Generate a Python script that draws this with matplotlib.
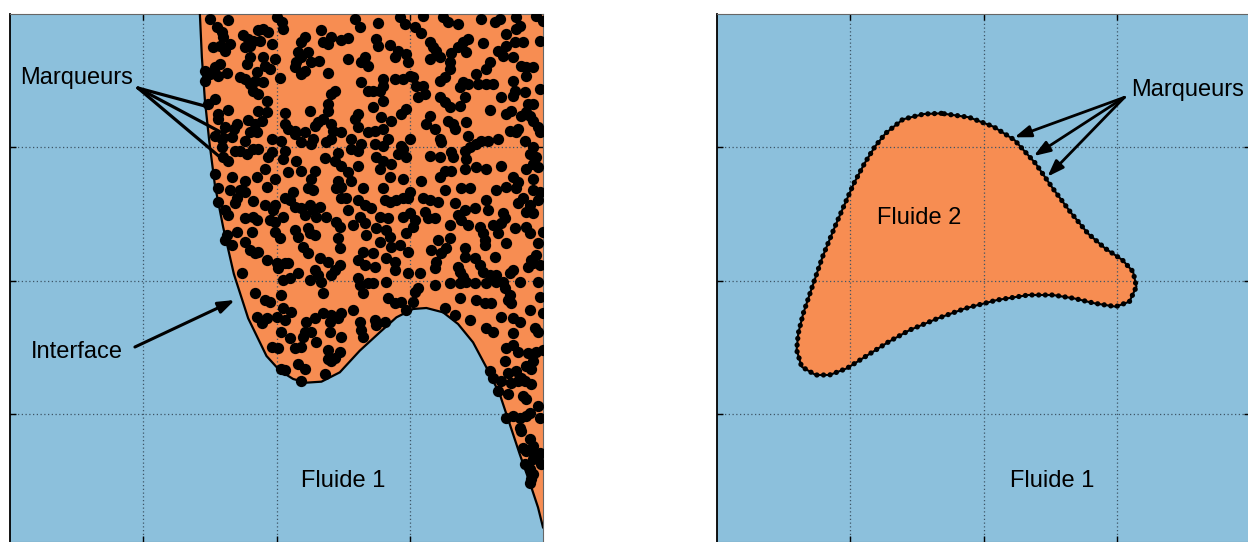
import matplotlib
matplotlib.use('Agg')
import matplotlib.pyplot as plt
import numpy as np

plt.rcParams['font.family'] = ['Liberation Sans', 'DejaVu Sans']

BLEU = '#8cc0dc'
ORANGE = '#f78d52'

# unites : 1 case de grille = 400, axe y vers le bas
interface_x = [570, 576, 585, 598, 615, 640, 672, 715, 770, 810, 850, 890, 935,
               990, 1050, 1110, 1160, 1210, 1250, 1300, 1345, 1390, 1430, 1470,
               1500, 1530, 1560, 1585, 1600]
interface_y = [0, 130, 258, 380, 513, 640, 780, 913, 1026, 1070, 1095, 1106, 1103,
               1075, 1010, 955, 910, 885, 882, 895, 930, 985, 1060, 1140,
               1230, 1320, 1405, 1480, 1540]

# marqueurs (fluide 2, figure de gauche)
markers_nw = [
    (600, 15), (653, 18), (800, 10), (817, 25), (820, 45), (1035, 15), (1050, 40), (933, 48),
    (620, 40), (635, 55), (640, 70), (745, 48), (760, 45), (775, 55), (700, 62), (715, 75),
    (730, 80), (750, 80), (885, 70), (875, 85), (965, 70), (995, 78), (1015, 72), (940, 85),
    (955, 90), (610, 100), (630, 95), (645, 112), (660, 90), (705, 100), (720, 95), (785, 90),
    (865, 115), (895, 115), (875, 130), (860, 145), (905, 145), (927, 140), (1065, 130),
    (1055, 145), (1075, 155), (1015, 135), (760, 128), (720, 130), (710, 150), (765, 155),
    (780, 165), (795, 135), (630, 150), (585, 170), (600, 180), (615, 160), (650, 178),
    (625, 185), (585, 200), (740, 175), (855, 160), (885, 170), (875, 180), (955, 177),
    (690, 190), (705, 195), (720, 210), (735, 200), (760, 205), (730, 230), (745, 240),
    (810, 192), (1055, 205), (975, 230), (965, 240), (1075, 230), (615, 255), (595, 270),
    (770, 262), (955, 270), (955, 290), (900, 290), (825, 298), (655, 288), (625, 300),
    (625, 315), (745, 292), (770, 295), (755, 320), (715, 318), (680, 330), (673, 345),
    (645, 340), (735, 330), (825, 330), (835, 345), (855, 352), (1045, 300), (1035, 315),
    (940, 315), (925, 325), (915, 335), (965, 330), (970, 350), (995, 355), (1045, 340),
    (1075, 355), (615, 365), (635, 375), (665, 370), (705, 380), (720, 355), (740, 355),
    (785, 375), (815, 380), (855, 360), (885, 355), (910, 375), (875, 385), (905, 390),
    (950, 385), (965, 375), (1025, 375), (1055, 390), (1025, 405), (1045, 410), (635, 400),
    (640, 430), (655, 440), (675, 410), (690, 410), (710, 420), (730, 405), (745, 405),
    (785, 415), (775, 430), (825, 410), (820, 435), (860, 440), (945, 432), (985, 418),
    (975, 440), (995, 455), (1015, 475), (1045, 455), (615, 480), (665, 490), (705, 500),
    (740, 490), (765, 465), (795, 495), (835, 475), (875, 470), (905, 495), (915, 470),
    (985, 500), (1025, 500)]
markers_ne = [
    (1105, 28), (1170, 10), (1185, 30), (1215, 40), (1240, 5), (1235, 58), (1300, 8),
    (1315, 25), (1345, 30), (1415, 15), (1455, 25), (1470, 15), (1520, 10), (1530, 35),
    (1520, 45), (1580, 5), (1600, 20), (1100, 75), (1105, 95), (1140, 92), (1155, 130),
    (1165, 110), (1190, 120), (1195, 145), (1260, 85), (1270, 100), (1280, 110), (1260, 135),
    (1290, 130), (1325, 118), (1345, 100), (1360, 85), (1375, 75), (1370, 115), (1420, 88),
    (1490, 60), (1490, 95), (1515, 85), (1540, 85), (1465, 110), (1480, 125), (1510, 130),
    (1590, 80), (1440, 145), (1430, 165), (1400, 180), (1535, 155), (1550, 160), (1570, 160),
    (1550, 185), (1320, 145), (1320, 165), (1305, 190), (1290, 200), (1200, 185), (1210, 190),
    (1180, 195), (1155, 195), (1120, 195), (1120, 215), (1090, 230), (1110, 230), (1220, 215),
    (1240, 215), (1225, 250), (1245, 240), (1360, 205), (1350, 220), (1375, 210), (1405, 210),
    (1430, 210), (1450, 210), (1510, 200), (1515, 230), (1510, 245), (1545, 235), (1590, 225),
    (1290, 250), (1305, 265), (1320, 280), (1350, 275), (1365, 250), (1475, 250), (1120, 260),
    (1090, 280), (1190, 285), (1175, 300), (1115, 310), (1145, 320), (1120, 345), (1095, 350),
    (1260, 305), (1250, 330), (1275, 345), (1315, 320), (1330, 330), (1335, 345), (1370, 325),
    (1440, 288), (1490, 300), (1505, 292), (1535, 305), (1550, 295), (1570, 270), (1555, 270),
    (1560, 305), (1570, 320), (1590, 355), (1525, 345), (1520, 355), (1135, 375), (1200, 375),
    (1290, 375), (1375, 365), (1415, 380), (1435, 380), (1465, 375), (1500, 350), (1545, 380),
    (1585, 340), (1095, 390), (1120, 395), (1175, 395), (1180, 405), (1190, 430), (1165, 420),
    (1100, 430), (1120, 440), (1145, 450), (1110, 465), (1260, 425), (1290, 430), (1295, 385),
    (1325, 415), (1330, 430), (1365, 410), (1370, 435), (1380, 400), (1400, 390), (1570, 400),
    (1560, 420), (1580, 430), (1570, 450), (1585, 460), (1550, 465), (1140, 490), (1180, 495),
    (1235, 500), (1290, 490), (1305, 470), (1325, 470), (1365, 465), (1400, 460), (1430, 465),
    (1475, 455), (1510, 490), (1525, 505), (1570, 495)]
markers_w = [
    (625, 523), (660, 528), (690, 528), (705, 533), (770, 518), (850, 533), (895, 523),
    (910, 528), (980, 523), (995, 518), (1060, 523), (625, 563), (680, 553), (675, 568),
    (730, 561), (765, 573), (795, 573), (790, 588), (825, 553), (840, 558), (855, 578),
    (875, 583), (900, 573), (910, 588), (930, 578), (920, 608), (885, 603), (995, 553),
    (1010, 553), (1045, 558), (1015, 588), (1065, 573), (645, 588), (655, 603), (705, 613),
    (730, 608), (740, 618), (780, 618), (795, 623), (820, 608), (895, 643), (950, 608),
    (980, 623), (990, 638), (1030, 633), (1050, 608), (1065, 628), (680, 653), (725, 653),
    (795, 653), (855, 648), (865, 668), (810, 673), (900, 658), (915, 663), (985, 673),
    (1070, 663), (650, 663), (645, 678), (665, 693), (705, 683), (720, 708), (735, 718),
    (745, 713), (770, 738), (800, 748), (825, 748), (835, 748), (880, 698), (895, 718),
    (930, 733), (955, 743), (990, 703), (990, 753), (1060, 713), (1045, 738), (1065, 753),
    (695, 778), (805, 763), (820, 798), (840, 793), (865, 778), (900, 798), (915, 768),
    (925, 783), (935, 803), (975, 768), (965, 783), (1045, 793), (1050, 813), (1075, 808),
    (735, 838), (765, 858), (780, 863), (815, 843), (940, 838), (1030, 888), (1060, 838),
    (740, 908), (770, 913), (755, 928), (800, 908), (820, 883), (825, 918), (845, 893),
    (890, 923), (915, 913), (940, 898), (965, 903), (960, 923), (985, 913), (995, 898),
    (1050, 923), (1055, 948), (815, 953), (840, 973), (885, 953), (905, 953), (920, 983),
    (880, 968), (960, 953), (995, 968), (1060, 968), (785, 998), (805, 1003), (855, 1003),
    (875, 998), (955, 1008), (990, 1013)]
markers_e = [
    (1120, 523), (1200, 533), (1305, 528), (1355, 523), (1380, 523), (1460, 528), (1490, 518),
    (1520, 523), (1570, 528), (1590, 533), (1125, 558), (1140, 563), (1160, 558), (1180, 553),
    (1195, 553), (1240, 553), (1260, 558), (1285, 563), (1335, 568), (1365, 588), (1395, 583),
    (1430, 558), (1435, 588), (1540, 553), (1525, 568), (1560, 573), (1570, 598), (1550, 593),
    (1585, 558), (1085, 583), (1110, 608), (1135, 613), (1180, 608), (1200, 598), (1215, 618),
    (1245, 593), (1255, 613), (1275, 613), (1345, 603), (1355, 618), (1480, 598), (1485, 613),
    (1475, 628), (1450, 633), (1410, 638), (1420, 658), (1100, 643), (1130, 648), (1140, 668),
    (1190, 658), (1210, 638), (1320, 633), (1375, 633), (1465, 658), (1515, 643), (1550, 638),
    (1560, 658), (1600, 653), (1110, 683), (1145, 698), (1170, 693), (1285, 678), (1320, 673),
    (1425, 678), (1425, 693), (1490, 688), (1585, 688), (1090, 718), (1130, 733), (1155, 743),
    (1195, 713), (1265, 708), (1310, 703), (1295, 718), (1365, 703), (1365, 728), (1395, 733),
    (1455, 728), (1410, 753), (1580, 723), (1565, 738), (1590, 753), (1570, 748), (1095, 758),
    (1155, 768), (1195, 778), (1230, 778), (1280, 743), (1275, 763), (1345, 758), (1350, 773),
    (1360, 788), (1420, 773), (1440, 783), (1460, 783), (1510, 768), (1500, 778), (1555, 758),
    (1090, 808), (1130, 803), (1215, 833), (1225, 823), (1275, 813), (1320, 808), (1350, 808),
    (1370, 803), (1395, 808), (1430, 808), (1460, 803), (1480, 803), (1485, 823), (1500, 843),
    (1530, 803), (1585, 803), (1135, 853), (1155, 868), (1175, 863), (1210, 863), (1190, 888),
    (1305, 883), (1350, 853), (1400, 858), (1425, 868), (1445, 868), (1495, 858), (1505, 868),
    (1590, 848), (1095, 918), (1125, 923), (1100, 933), (1335, 903), (1380, 918), (1475, 908),
    (1510, 913), (1530, 923), (1560, 888), (1600, 898), (1430, 943), (1450, 953), (1510, 958),
    (1585, 953), (1575, 943), (1490, 1003), (1510, 993), (1525, 1013), (1555, 1018),
    (1580, 1013), (1600, 1008)]
markers_sw = [
    (815, 1066), (825, 1068), (865, 1051), (885, 1066), (875, 1101), (945, 1081), (955, 1036),
    (965, 1041), (975, 1031)]
markers_se = [
    (1485, 1041), (1570, 1041), (1565, 1066), (1550, 1056), (1440, 1071), (1450, 1091),
    (1475, 1101), (1495, 1076), (1520, 1071), (1505, 1106), (1525, 1101), (1465, 1131),
    (1495, 1141), (1540, 1146), (1550, 1156), (1565, 1111), (1535, 1091), (1545, 1101),
    (1490, 1211), (1510, 1206), (1530, 1211), (1550, 1206), (1560, 1196), (1585, 1176),
    (1590, 1211), (1530, 1241), (1535, 1251), (1540, 1301), (1550, 1311), (1560, 1276),
    (1570, 1296), (1575, 1321), (1585, 1326), (1570, 1336), (1595, 1351), (1545, 1351),
    (1560, 1366), (1570, 1381), (1560, 1406), (1565, 1396), (1590, 1316)]

# bulle (fluide 2, figure de droite)
bulle_x = [673, 621, 558, 506, 474, 443, 411, 380, 354, 317, 286, 259, 244, 239, 254,
           296, 338, 390, 453, 516, 579, 663, 746, 841, 935, 1008, 1071, 1134, 1197,
           1238, 1259, 1249, 1217, 1165, 1113, 1060, 1008, 956, 893, 830, 757]
bulle_y = [298, 300, 316, 358, 398, 448, 508, 578, 638, 728, 818, 898, 958, 1008, 1058,
           1083, 1083, 1063, 1023, 983, 948, 913, 883, 858, 843, 843, 853, 868, 878,
           863, 818, 773, 738, 703, 658, 593, 523, 448, 378, 338, 310]

grille = [400, 800, 1200]


def preparer_axe(ax):
    ax.set_facecolor(BLEU)
    ax.set_xlim(0, 1600)
    ax.set_ylim(1584, 0)
    ax.set_xticks(grille)
    ax.set_yticks(grille)
    ax.tick_params(direction='in', length=4, width=1, labelleft=False,
                   labelbottom=False, top=True, right=True)
    ax.set_axisbelow('line')
    ax.grid(True, linestyle=(0, (1, 2)), color='#3d5566', linewidth=0.9)
    for cote in ['top', 'right', 'bottom']:
        ax.spines[cote].set_color('#666666')
        ax.spines[cote].set_linewidth(0.8)
    ax.spines['left'].set_color('black')
    ax.spines['left'].set_linewidth(1.3)


fig = plt.figure(figsize=(12.48, 5.42), dpi=100)
ax1 = fig.add_axes([10 / 1248, 0, 533 / 1248, 528 / 542])
ax2 = fig.add_axes([717 / 1248, 0, 533 / 1248, 528 / 542])
preparer_axe(ax1)
preparer_axe(ax2)

# --- gauche : interface avec marqueurs en volume
fx = interface_x + [1600]
fy = interface_y + [0]
ax1.fill(fx, fy, color=ORANGE, zorder=0.5, lw=0)
ax1.plot(interface_x, interface_y, color='black', lw=1.6, zorder=3)

marqueurs = np.array(markers_nw + markers_ne + markers_w + markers_e
                     + markers_sw + markers_se)
ax1.scatter(marqueurs[:, 0], marqueurs[:, 1], s=66, color='black', lw=0, zorder=4)

ax1.text(30, 192, 'Marqueurs', fontsize=17, ha='left', va='center', zorder=5)
for cible in [(585, 276), (660, 369), (630, 429)]:
    ax1.annotate('', xy=cible, xytext=(384, 222),
                 arrowprops=dict(arrowstyle='-', lw=2.3, color='black',
                                 shrinkA=0, shrinkB=0), zorder=5)

ax1.text(63, 1014, 'Interface', fontsize=17, ha='left', va='center', zorder=5)
ax1.annotate('', xy=(675, 858), xytext=(375, 999),
             arrowprops=dict(arrowstyle='-|>,head_length=0.7,head_width=0.25',
                             mutation_scale=14, lw=2.2, color='black',
                             shrinkA=0, shrinkB=0), zorder=5)
ax1.text(999, 1401, 'Fluide 1', fontsize=17, ha='center', va='center', zorder=5)

# --- droite : bulle avec marqueurs a l'interface
ax2.fill(bulle_x, bulle_y, color=ORANGE, zorder=0.5, lw=0)
bx = bulle_x + bulle_x[:1]
by = bulle_y + bulle_y[:1]
ax2.plot(bx, by, color='black', lw=1.5, zorder=3)
ax2.plot(bx, by, color='black', lw=3.8, linestyle=(0, (0.01, 1.25)),
         dash_capstyle='round', zorder=4)

ax2.text(1242, 228, 'Marqueurs', fontsize=17, ha='left', va='center', zorder=5)
for cible in [(893, 370), (951, 426), (992, 488)]:
    ax2.annotate('', xy=cible, xytext=(1223, 250),
                 arrowprops=dict(arrowstyle='-|>,head_length=0.7,head_width=0.25',
                                 mutation_scale=14, lw=2.0, color='black',
                                 shrinkA=0, shrinkB=0), zorder=5)
ax2.text(606, 612, 'Fluide 2', fontsize=17, ha='center', va='center', zorder=5)
ax2.text(1005, 1401, 'Fluide 1', fontsize=17, ha='center', va='center', zorder=5)

fig.savefig('out.png', dpi=100)
plt.close(fig)
